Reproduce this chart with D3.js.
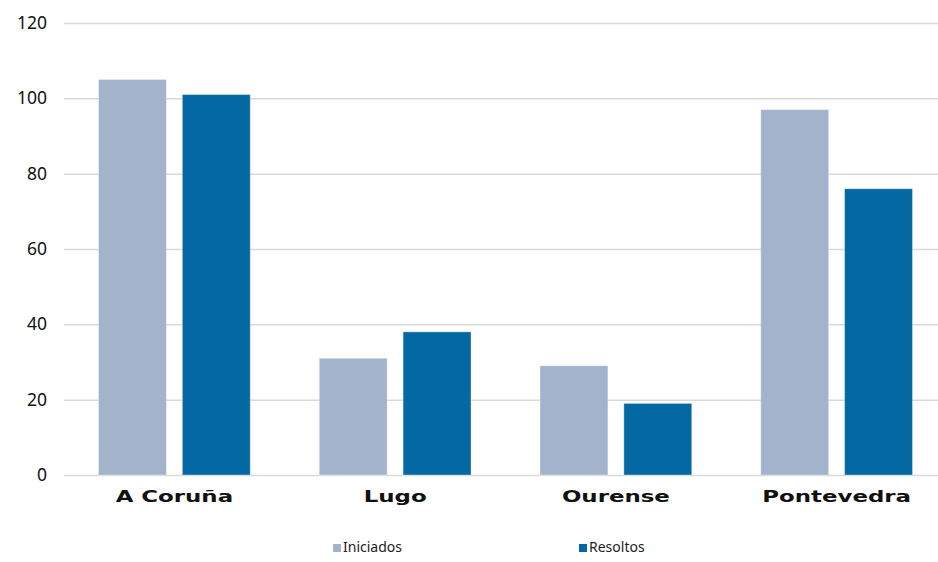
<!DOCTYPE html>
<html>
<head>
<meta charset="utf-8">
<script src="https://cdn.jsdelivr.net/npm/d3@7"></script>
<style>
   body { margin: 0; background: #fff; }
   #chart { width: 938px; height: 562px; }
</style>
</head>
<body>
<div id="chart"></div>
<script>
const categories = ["A Coruña", "Lugo", "Ourense", "Pontevedra"];
const seriesNames = ["Iniciados", "Resoltos"];
const iniciados = [105, 31, 29, 97];
const resoltos = [101, 38, 19, 76];
const yTicks = [0, 20, 40, 60, 80, 100, 120];
const colors = ["#a2b3cb", "#0468a3"];

const width = 938, height = 562;
const margin = { top: 23, left: 64, bottom: 87 };
const plotBottom = height - margin.bottom;

const svg = d3.select("#chart").append("svg")
   .attr("width", width)
   .attr("height", height);

// Scales
const y = d3.scaleLinear().domain([0, 120]).range([plotBottom, margin.top]);
const x = d3.scaleBand().domain(categories).range([margin.left, 947]).paddingInner(0).paddingOuter(0);
const xInner = d3.scaleBand().domain(seriesNames).range([34.5, x.bandwidth() - 34.5]).paddingInner(0.19);

// Gridlines + y labels
const yAxis = d3.axisLeft(y).tickValues(yTicks).tickSize(0).tickPadding(17);
const yG = svg.append("g")
   .attr("transform", "translate(" + margin.left + ",0)")
   .call(yAxis);
yG.select(".domain").remove();
yG.selectAll(".tick text")
   .attr("font-family", "'Noto Sans', sans-serif")
   .attr("font-size", 17.5)
   .attr("fill", "#111");
yG.selectAll(".tick").append("line")
   .attr("x1", 0)
   .attr("x2", width - margin.left)
   .attr("stroke", "#d9d9d9")
   .attr("stroke-width", 1.5);

// Bars
const rows = categories.map((c, i) => ({ cat: c, values: [iniciados[i], resoltos[i]] }));
const groups = svg.append("g").selectAll("g.cat")
   .data(rows)
   .enter().append("g")
   .attr("class", "cat")
   .attr("transform", d => "translate(" + x(d.cat) + ",0)");

groups.selectAll("rect")
   .data(d => d.values.map((v, j) => ({ name: seriesNames[j], v: v, j: j })))
   .enter().append("rect")
   .attr("x", d => xInner(d.name))
   .attr("width", xInner.bandwidth())
   .attr("y", d => y(d.v))
   .attr("height", d => plotBottom - y(d.v))
   .attr("fill", d => colors[d.j])
   .attr("stroke", "#ffffff")
   .attr("stroke-opacity", 0.35)
   .attr("stroke-width", 1);

// Category labels
const xAxis = d3.axisBottom(x).tickSize(0).tickPadding(0);
const xG = svg.append("g")
   .attr("transform", "translate(0," + plotBottom + ")")
   .call(xAxis);
xG.select(".domain").remove();
xG.selectAll(".tick text")
   .attr("y", 27)
   .attr("dy", 0)
   .attr("font-family", "'DejaVu Sans', sans-serif")
   .attr("font-weight", "bold")
   .attr("font-size", 16)
   .attr("fill", "#111")
   .attr("transform", "scale(1.43,1)");

// Legend
const legendX = [333, 579];
const legend = svg.append("g").selectAll("g")
   .data(seriesNames)
   .enter().append("g")
   .attr("transform", (d, i) => "translate(" + legendX[i] + ",543)");
legend.append("rect")
   .attr("y", 1)
   .attr("width", 8)
   .attr("height", 8)
   .attr("fill", (d, i) => colors[i]);
legend.append("text")
   .attr("x", 10)
   .attr("y", 9)
   .attr("font-family", "'Noto Sans', sans-serif")
   .attr("font-size", 14)
   .attr("fill", "#222")
   .text(d => d);
</script>
</body>
</html>
